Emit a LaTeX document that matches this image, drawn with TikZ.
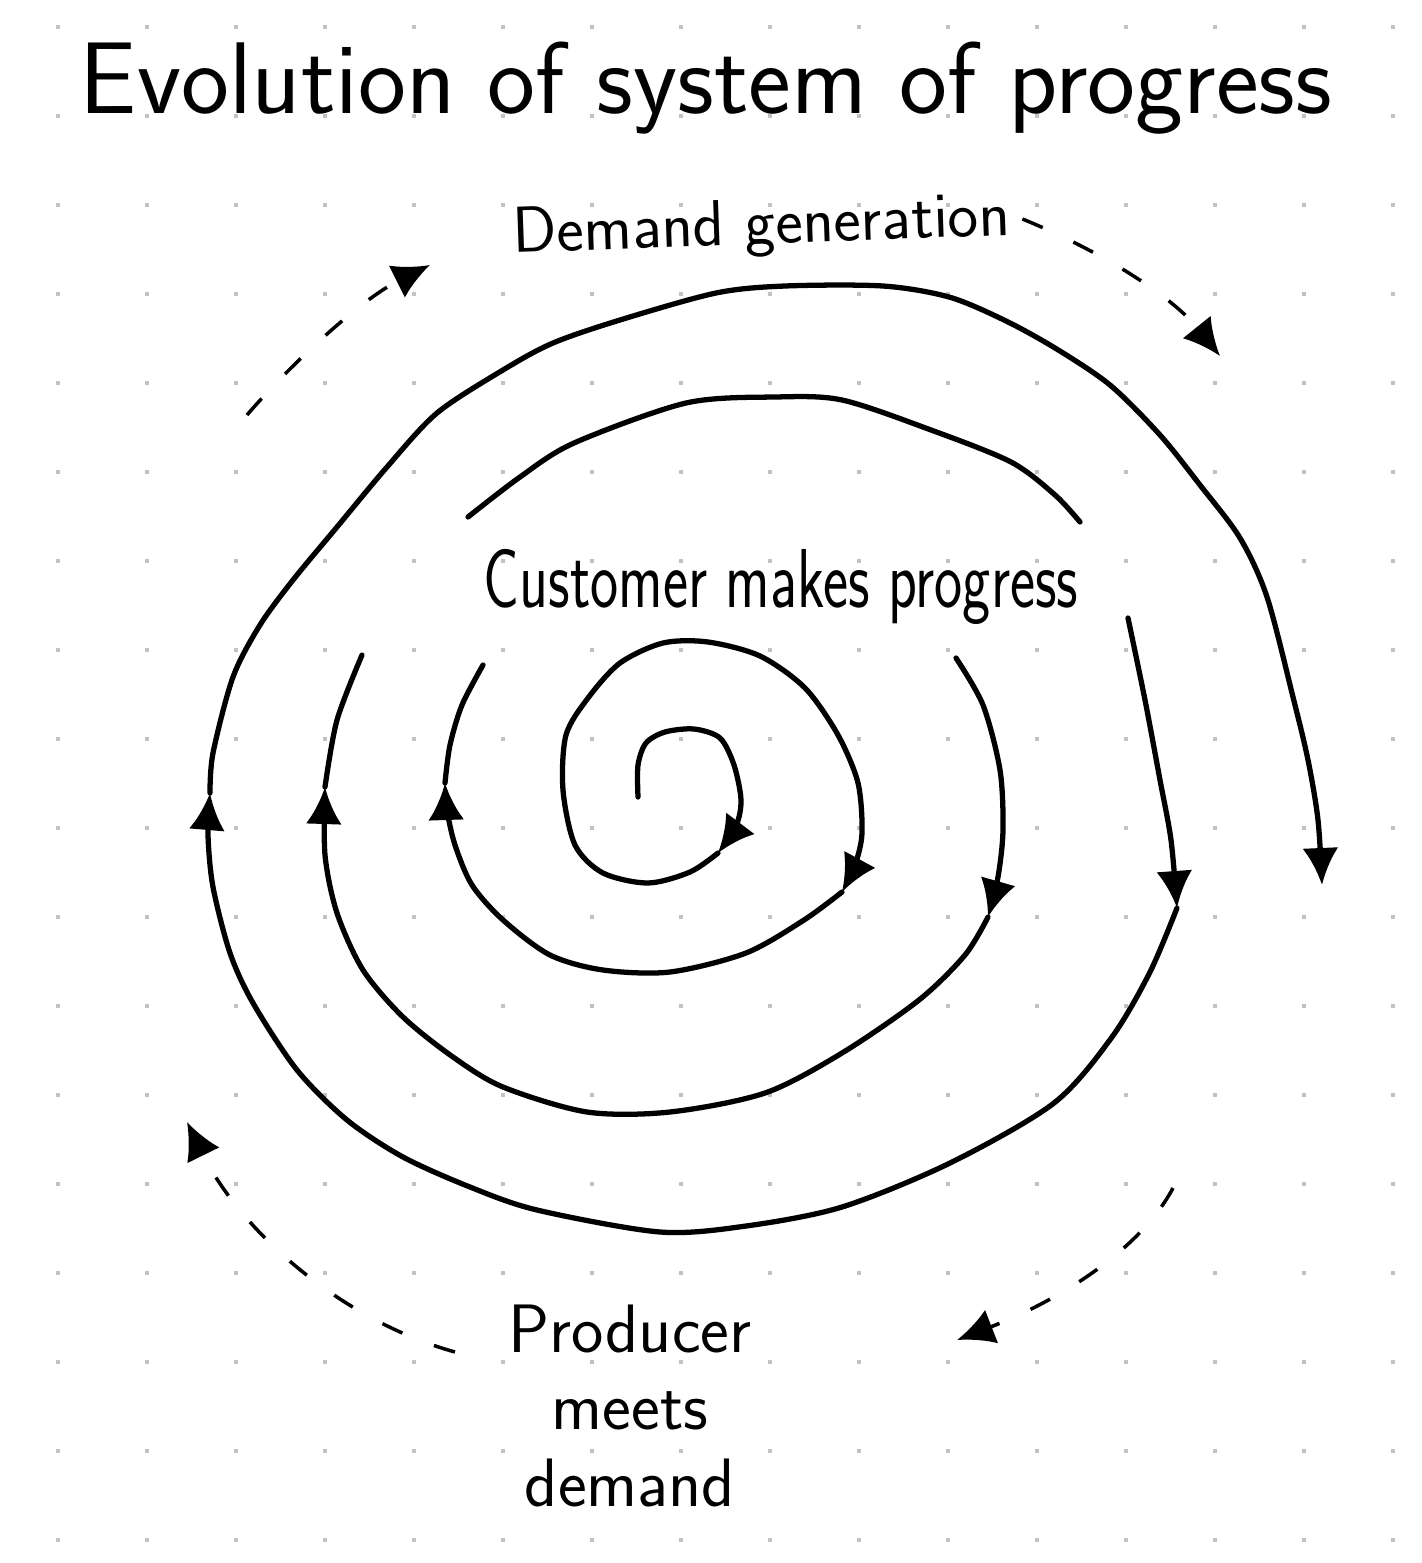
\documentclass[tikz,border=0pt]{standalone}
\usepackage{graphicx}
\usetikzlibrary{arrows.meta,positioning}
\definecolor{dotgray}{gray}{0.76}
\tikzset{>={Latex[length=3.7mm,width=3.6mm]}}
\tikzset{font=\sffamily}
\tikzset{spiral/.style={line width=1.5pt, line cap=round, line join=round}}
\tikzset{hint/.style={->, line width=1pt, dash pattern=on 2.2mm off 3.4mm}}

\begin{document}
\begin{tikzpicture}[x=0.1mm, y=-0.1mm]
  \useasboundingbox (0,0) rectangle (1421,1563);
  % dot grid of the notebook page
  \foreach \i in {0,...,15}
    \foreach \j in {0,...,17}
      \fill[dotgray] ({56+89*\i},{25+89*\j}) rectangle +(4,4);

  % labels
  \node[anchor=base, font=\sffamily\fontsize{29}{34}\selectfont] (title) at (706,113) {Evolution of system of progress};
  \node[anchor=base, rotate=2, font=\sffamily\fontsize{18.5}{22}\selectfont] (demand) at (762,244) {Demand generation};
  \node[anchor=base, font=\sffamily\fontsize{17}{20}\selectfont] (customer) at (781,607) {\scalebox{1}[1.4]{Customer makes progress}};
  \node[anchor=north, align=center, inner sep=0pt, font=\sffamily\fontsize{19.5}{22}\selectfont] (producer) at (630,1304) {Producer\\meets\\demand};

  % innermost turn
  \draw[spiral,->] plot[smooth] coordinates {(638,797) (638,765) (646,743) (665,732) (694,729) (720,738) (734,765) (741,800) (736,826) (718,853)};
  \draw[spiral,->] plot[smooth] coordinates {(718,853) (690,872) (648,883) (603,873) (575,845) (563,790) (566,735) (588,698) (620,663) (663,643) (708,642) (760,656) (805,688) (838,735) (858,783) (862,833) (855,865) (842,892)};
  \draw[spiral,->] plot[smooth] coordinates {(842,892) (804,920) (746,953) (670,972) (603,970) (550,955) (503,920) (472,885) (455,845) (447,810) (445,783)};
  \draw[spiral] plot[smooth] coordinates {(445,783) (450,745) (462,705) (483,665)};

  % second turn
  \draw[spiral,->] plot[smooth] coordinates {(956,658) (983,705) (1000,770) (1003,830) (998,877) (988,917)};
  \draw[spiral,->] plot[smooth] coordinates {(988,917) (965,955) (919,1000) (842,1053) (765,1093) (670,1112) (587,1112) (503,1087) (453,1057) (403,1017) (363,970) (337,913) (325,855) (325,787)};
  \draw[spiral] plot[smooth] coordinates {(325,787) (337,720) (362,655)};

  % arc over the middle label
  \draw[spiral] plot[smooth] coordinates {(468,517) (520,477) (574,443) (686,403) (775,397) (842,400) (931,430) (1011,462) (1055,495) (1080,522)};

  % outer turn
  \draw[spiral,->] plot[smooth] coordinates {(1128,618) (1145,700) (1160,780) (1171,840) (1177,908)};
  \draw[spiral,->] plot[smooth] coordinates {(1177,908) (1150,972) (1112,1037) (1054,1103) (950,1163) (842,1207) (746,1226) (660,1232) (537,1210) (470,1187) (403,1157) (347,1120) (297,1070) (253,1003) (230,953) (213,887) (208,835) (210,793)};
  \draw[spiral,->] plot[smooth] coordinates {(210,793) (213,753) (233,677) (260,625) (293,580) (337,527) (387,467) (437,413) (503,370) (553,343) (620,320) (716,293) (785,286) (883,286) (949,297) (1004,320) (1055,348) (1110,385) (1160,435) (1200,485) (1240,538) (1267,597) (1293,697) (1308,760) (1318,820) (1322,885)};

  % dashed cycle arrows
  \coordinate (dgstart) at (247,415);
  \coordinate (dgtip) at (430,265);
  \coordinate (genend) at (1220,356);
  \coordinate (pmstart) at (1173,1188);
  \coordinate (pmtip) at (957,1340);
  \coordinate (metstart) at (455,1352);
  \coordinate (mettip) at (187,1122);
  \draw[hint] (dgstart) .. controls (290,365) and (360,300) .. (dgtip);
  \draw[hint] (demand.east) .. controls (1110,255) and (1175,300) .. (genend);
  \draw[hint] (pmstart) .. controls (1140,1250) and (1060,1300) .. (pmtip);
  \draw[hint] (metstart) .. controls (340,1320) and (240,1230) .. (mettip);
\end{tikzpicture}
\end{document}
